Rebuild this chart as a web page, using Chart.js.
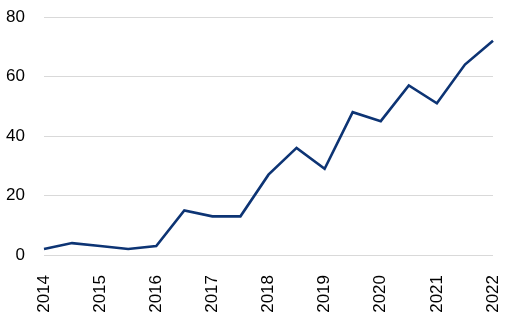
<!DOCTYPE html>
<html>
<head>
<meta charset="utf-8">
<script src="https://cdn.jsdelivr.net/npm/chart.js@4"></script>
<style>
  html, body { margin: 0; padding: 0; background: #fff; }
  #wrap { width: 506px; height: 314px; }
</style>
</head>
<body>
<div id="wrap"><canvas id="chart" width="506" height="314"></canvas></div>
<script>
// Half-year periods, labelled on the full years only
const periods = [
  '2014', '2014H2', '2015', '2015H2', '2016', '2016H2', '2017', '2017H2',
  '2018', '2018H2', '2019', '2019H2', '2020', '2020H2', '2021', '2021H2', '2022'
];
const values = [2, 4, 3, 2, 3, 15, 13, 13, 27, 36, 29, 48, 45, 57, 51, 64, 72];
const yTicks = [0, 20, 40, 60, 80];

const LINE_COLOR = '#0d3474';
const GRID_COLOR = '#d9d9d9';
const FONT = { family: 'Arial, "Liberation Sans", sans-serif', size: 17 };

new Chart(document.getElementById('chart').getContext('2d'), {
  type: 'line',
  data: {
    labels: periods,
    datasets: [{
      data: values,
      borderColor: LINE_COLOR,
      borderWidth: 2.6,
      pointRadius: 0,
      tension: 0,
      fill: false
    }]
  },
  options: {
    responsive: false,
    animation: false,
    layout: { padding: { top: 17, right: 13, bottom: 0, left: 0 } },
    plugins: { legend: { display: false }, tooltip: { enabled: false } },
    scales: {
      x: {
        offset: false,
        grid: { display: false },
        border: { display: false },
        ticks: {
          autoSkip: false,
          minRotation: 90,
          maxRotation: 90,
          padding: 12,
          color: '#000',
          font: FONT,
          callback: (v, i) => (periods[i].includes('H') ? '' : periods[i])
        },
        afterFit: s => { s.height = 59; s.paddingLeft = 0; s.paddingRight = 0; }
      },
      y: {
        min: yTicks[0],
        max: yTicks[yTicks.length - 1],
        afterBuildTicks: axis => { axis.ticks = yTicks.map(v => ({ value: v })); },
        grid: { color: GRID_COLOR, lineWidth: 1, drawTicks: false },
        border: { display: false },
        ticks: { padding: 19, color: '#000', font: FONT },
        afterFit: s => { s.width = 44; s.paddingTop = 0; s.paddingBottom = 0; }
      }
    }
  }
});
</script>
</body>
</html>
